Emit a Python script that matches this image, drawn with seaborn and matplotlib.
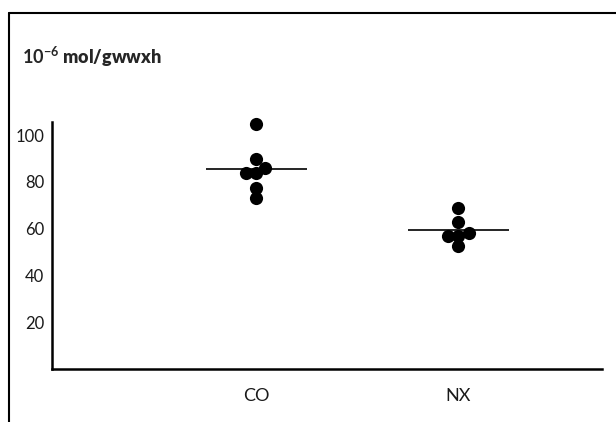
# Dot plot of CO vs NX with group means, in the style of a scanned figure
import pandas as pd
import seaborn as sns
import matplotlib.pyplot as plt
from matplotlib.lines import Line2D

# Data
groups = ["CO", "NX"]
co_values = [105, 90, 86, 84, 84, 77.5, 73]
nx_values = [69, 63, 58, 57, 57, 52.7]
y_ticks = [20, 40, 60, 80, 100]
unit_label = r"$\mathbf{10^{-6}}$ mol/gwwxh"

df = pd.DataFrame({
    "group": ["CO"] * len(co_values) + ["NX"] * len(nx_values),
    "value": co_values + nx_values,
})

sns.set_style("white")
plt.rcParams["font.family"] = ["Lato", "DejaVu Sans"]
plt.rcParams["mathtext.fontset"] = "custom"
plt.rcParams["mathtext.rm"] = "Lato"
plt.rcParams["mathtext.bf"] = "Lato:bold"

fig = plt.figure(figsize=(6.16, 4.22), dpi=100)
ax = fig.add_axes([0.0844, 0.1256, 0.8926, 0.585])

# swarm layout with a smaller marker, then enlarge the dots so they overlap like the original
sns.swarmplot(data=df, x="group", y="value", order=groups, color="black",
              size=7.2, ax=ax, zorder=3)
ax.set_xlim(-1.01, 1.71)
ax.set_ylim(0, 105.6)
fig.canvas.draw()
for coll in ax.collections:
    del coll.draw
    coll.set_sizes([90])
    coll.set_linewidth(0)
    coll.set_clip_on(False)

# mean lines
means = df.groupby("group")["value"].mean().reindex(groups)
for i, m in enumerate(means):
    ax.hlines(m, i - 0.25, i + 0.25, color="black", lw=1.2, zorder=2)

ax.set_yticks(y_ticks)
ax.set_xlabel("")
ax.set_ylabel("")
sns.despine(ax=ax)
for side in ["left", "bottom"]:
    ax.spines[side].set_color("black")
    ax.spines[side].set_linewidth(1.8)
ax.tick_params(axis="y", direction="inout", length=7, width=1.3, color="black",
               labelsize=12, labelcolor="#1a1a1a", pad=2)
ax.tick_params(axis="x", length=0, labelsize=13, labelcolor="#1a1a1a", pad=14)

fig.text(0.036, 0.865, unit_label, fontsize=13, fontweight="heavy", va="center")

# scan frame on the left and top
fig.add_artist(Line2D([0.0146, 0.0146], [0, 0.969], transform=fig.transFigure,
                      color="black", lw=1.5))
fig.add_artist(Line2D([0.0146, 1.0], [0.969, 0.969], transform=fig.transFigure,
                      color="black", lw=1.5))

fig.savefig("out.png", dpi=100)
